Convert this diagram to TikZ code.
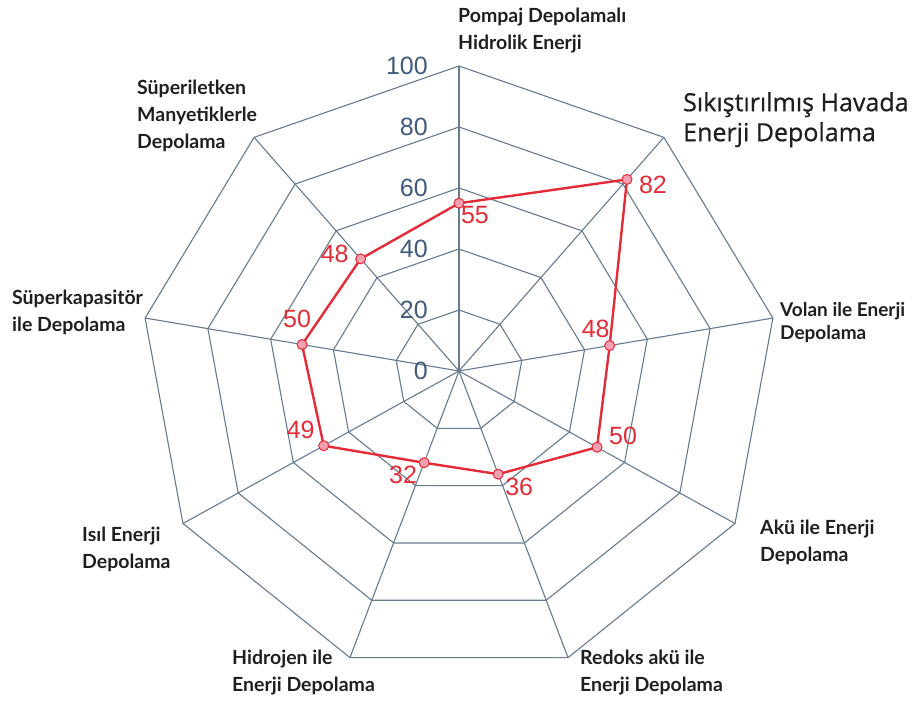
\documentclass[tikz,border=0pt]{standalone}
\usepackage{fontspec}
\setmainfont{Liberation Sans}
\newfontfamily\axisfont{Lato}
\newfontfamily\bigfont{Open Sans}[FakeBold=0.7]
\usetikzlibrary{positioning}

\definecolor{gridgray}{RGB}{104,122,142}
\definecolor{scaleblue}{RGB}{64,90,124}
\definecolor{datared}{RGB}{228,44,56}
\definecolor{dotpink}{RGB}{246,160,178}

\begin{document}
\begin{tikzpicture}
[x=1pt,y=1pt,
 web/.style={draw=gridgray,line width=1.1pt,line join=round},
 dataline/.style={draw=datared,line width=2.4pt,line join=round},
 dot/.style={circle,draw=datared,fill=dotpink,line width=1pt,inner sep=0pt,minimum size=10pt},
 val/.style={text=datared,font=\fontsize{25}{25}\selectfont,inner sep=0pt},
 scalelbl/.style={text=scaleblue,font=\fontsize{25}{25}\selectfont,inner sep=0pt,anchor=east},
 axlbl/.style={text=black!88,font=\axisfont\bfseries\fontsize{19.5}{27}\selectfont,align=left,anchor=north west,inner sep=0pt}]
\useasboundingbox (-459,-333) rectangle (463,371);
\coordinate (c) at (0,0);
\foreach \i in {0,...,8}
  \coordinate (v\i) at ({1.045*305*cos(90-40*\i)},{305*sin(90-40*\i)});
% web
\foreach \r in {61,122,183,244,305}
  \draw[web] (0,\r) \foreach \i in {1,...,8}{ -- ({1.045*\r*cos(90-40*\i)},{\r*sin(90-40*\i)}) } -- cycle;
\foreach \i in {0,...,8}
  \draw[web] (c) -- (v\i);
% scale
\foreach \k in {0,...,5}{
  \pgfmathtruncatemacro\n{20*\k}
  \node[scalelbl] (s\k) at (-31,61*\k) {\n};
}
% data
\foreach \v [count=\i from 0] in {55,82,48,50,36,32,49,50,48}
  \coordinate (p\i) at ({1.045*3.05*\v*cos(90-40*\i)},{3.05*\v*sin(90-40*\i)});
\draw[dataline] (p0) -- (p1) -- (p2) -- (p3) -- (p4) -- (p5) -- (p6) -- (p7) -- (p8) -- cycle;
\foreach \i in {0,...,8}
  \node[dot] (m\i) at (p\i) {};
\node[val] (l0) at ([shift={(16,-12)}]m0.center) {55};
\node[val] (l1) at ([shift={(26,-5)}]m1.center) {82};
\node[val] (l2) at ([shift={(-14,17)}]m2.center) {48};
\node[val] (l3) at ([shift={(26,11)}]m3.center) {50};
\node[val] (l4) at ([shift={(21,-13)}]m4.center) {36};
\node[val] (l5) at ([shift={(-21,-12)}]m5.center) {32};
\node[val] (l6) at ([shift={(-23,16)}]m6.center) {49};
\node[val] (l7) at ([shift={(-5,26)}]m7.center) {50};
\node[val] (l8) at ([shift={(-26,5)}]m8.center) {48};
% axis names
\node[axlbl] (a0) at (-1,363) {Pompaj Depolamalı\\Hidrolik Enerji};
\node[text=black!88,font=\bigfont\fontsize{25}{30}\selectfont,align=left,anchor=north west,inner sep=0pt] (a1) at (224,279) {Sıkıştırılmış Havada\\Enerji Depolama};
\node[axlbl,font=\axisfont\bfseries\fontsize{19}{23}\selectfont] (a2) at (321,69) {Volan ile Enerji\\Depolama};
\node[axlbl] (a3) at (301,-149) {Akü ile Enerji\\Depolama};
\node[axlbl] (a4) at (121,-279) {Redoks akü ile\\Enerji Depolama};
\node[axlbl] (a5) at (-227,-279) {Hidrojen ile\\Enerji Depolama};
\node[axlbl] (a6) at (-377,-156) {Isıl Enerji\\Depolama};
\node[axlbl] (a7) at (-447,81) {Süperkapasitör\\ile Depolama};
\node[axlbl] (a8) at (-322,291) {Süperiletken\\Manyetiklerle\\Depolama};
\end{tikzpicture}
\end{document}
